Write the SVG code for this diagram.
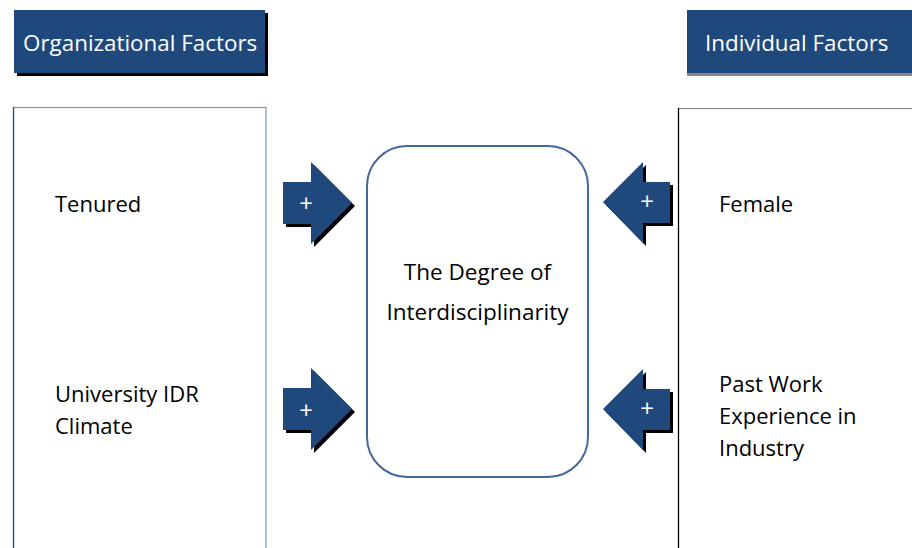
<svg xmlns="http://www.w3.org/2000/svg" width="912" height="548" viewBox="0 0 912 548">
<style>
.hdr{fill:#1F497D}
.shadow{fill:#000}
.arrow{fill:#1F497D}
.t{font-family:"Open Sans","Liberation Sans",sans-serif;font-size:22px;fill:#000}
.ht{font-family:"Open Sans","Liberation Sans",sans-serif;font-size:22.4px;fill:#fff}
.plus{font-family:"Open Sans","Liberation Sans",sans-serif;font-size:24px;fill:#fff;text-anchor:middle}
</style>
<defs>
<path id="arR" d="M0,-21 L28,-21 L28,-41 L69,0 L28,41 L28,21 L0,21 Z"/>
<path id="arL" d="M0,0 L40,-40 L40,-20 L67,-20 L67,21 L40,21 L40,41 Z"/>
</defs>
<rect width="912" height="548" fill="#fff"/>
<g id="org-header">
<rect x="17" y="13" width="251" height="63" class="shadow"/>
<rect x="14" y="10" width="251" height="63" class="hdr"/>
<text x="23" y="51" class="ht">Organizational Factors</text>
</g>
<g id="ind-header">
<rect x="687" y="13" width="230" height="63" fill="#888"/>
<rect x="687" y="10" width="230" height="63" class="hdr"/>
<text x="705" y="51" class="ht">Individual Factors</text>
</g>
<g id="org-box">
<rect x="13.5" y="107.5" width="252.5" height="460" fill="none" stroke="#7D96BA" stroke-width="1.2"/>
<line x1="13.5" y1="107" x2="13.5" y2="548" stroke="#1F497D" stroke-width="1.2"/>
<text x="55" y="212" class="t">Tenured</text>
<text x="55" y="402" class="t">University IDR</text>
<text x="55" y="434" class="t">Climate</text>
</g>
<g id="ind-box">
<rect x="678.5" y="108.5" width="260" height="460" fill="none" stroke="#888" stroke-width="1.2"/>
<line x1="678.5" y1="108" x2="678.5" y2="548" stroke="#000" stroke-width="1.2"/>
<text x="719" y="212" class="t">Female</text>
<text x="719" y="392" class="t">Past Work</text>
<text x="719" y="424" class="t">Experience in</text>
<text x="719" y="456" class="t">Industry</text>
</g>
<g id="center">
<rect x="367" y="146" width="221" height="331" rx="40" ry="40" fill="#fff" stroke="#41699A" stroke-width="2"/>
<text x="477.5" y="280" class="t" text-anchor="middle" style="font-size:22.5px">The Degree of</text>
<text x="477.5" y="320" class="t" text-anchor="middle" style="font-size:22.5px">Interdisciplinarity</text>
</g>
<g id="connectors">
<g id="arrow-tenured">
<use href="#arR" x="286" y="206" class="shadow"/>
<use href="#arR" x="283" y="203" class="arrow"/>
<text x="306" y="212" class="plus">+</text>
</g>
<g id="arrow-climate">
<use href="#arR" x="286" y="412" class="shadow"/>
<use href="#arR" x="283" y="409" class="arrow"/>
<text x="306" y="419" class="plus">+</text>
</g>
<g id="arrow-female">
<use href="#arL" x="606" y="205" class="shadow"/>
<use href="#arL" x="603" y="202" class="arrow"/>
<text x="647" y="210" class="plus">+</text>
</g>
<g id="arrow-work">
<use href="#arL" x="606" y="412" class="shadow"/>
<use href="#arL" x="603" y="409" class="arrow"/>
<text x="647" y="417" class="plus">+</text>
</g>
</g>
</svg>
